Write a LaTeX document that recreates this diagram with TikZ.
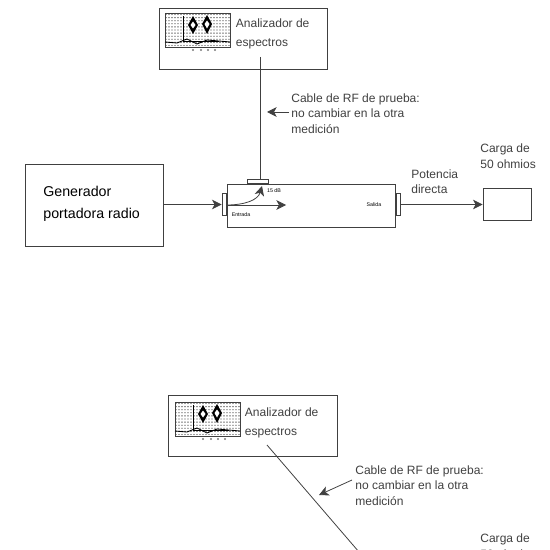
\documentclass[tikz,border=0pt]{standalone}
\usepackage{fontspec}
\setmainfont{Liberation Sans}
\usetikzlibrary{arrows.meta}
\definecolor{tinta}{gray}{.25}
\tikzset{
caja/.style={draw=tinta,line width=.42pt,inner sep=0pt},
linea/.style={draw=tinta,line width=.45pt},
flecha/.style={linea,-{Stealth[length=5.5pt,width=5.5pt,inset=1.5pt]}},
rotulo/.style={anchor=west,inner sep=0pt,text=tinta,font=\fontsize{6.85}{8.8}\selectfont,align=left},
mini/.style={inner sep=0pt,text=black,font=\fontsize{3}{3.4}\selectfont},
pics/espectro/.style={code={
\foreach \i in {0,...,21}{\foreach \j in {0,...,10}{\fill[tinta] (1+\i*3,1.5+\j*3.1) circle (.38pt);}}
\draw[tinta,line width=.4pt] (0,0) rectangle (65,34);
\draw[black,line width=.5pt] (18,3)--(18,28)--(54,28);
\draw[black,line width=.5pt] (0,29)--(12,30)--(22,26)--(32,31)--(42,27)--(65,29);
\fill[black] (28,3)--(33,12)--(28,21)--(23,12)--cycle;\fill[black] (42,2)--(47,11)--(42,21)--(37,11)--cycle;
\fill[white] (28,8.5)--(30.5,12)--(28,15.5)--(25.5,12)--cycle;\fill[white] (42,7.5)--(44.5,11)--(42,15.5)--(39.5,11)--cycle;
\foreach \i in {28,36,43,50}{\fill[tinta!70] (\i,37) circle (.7pt);}
}}}
\begin{document}
\begin{tikzpicture}[x=.02cm,y=-.02cm]
\useasboundingbox (0,0) rectangle (550,550);
\clip (0,0) rectangle (550,550);
% medicion de arriba
\node[caja,minimum width=3.36cm,minimum height=1.22cm] (analizador) at (243,38.5){};
\pic at (165,13) {espectro};
\node[rotulo] (analizadortxt) at (235.5,34) {Analizador de\\[1.9pt]espectros};
\node[caja,minimum width=2.76cm,minimum height=1.64cm] (generador) at (94,205){};
\node[rotulo,text=black,font=\fontsize{8.1}{12.4}\selectfont] (generadortxt) at (43,203.5) {Generador\\portadora radio};
\node[caja,minimum width=3.36cm,minimum height=.86cm] (acoplador) at (311,205.5){};
\node[caja,minimum width=.08cm,minimum height=.44cm] (entrada) at (224,204.5){};
\node[caja,minimum width=.08cm,minimum height=.44cm] (salida) at (398,204.5){};
\node[caja,fill=white,minimum width=.42cm,minimum height=.07cm] (toma) at (257.5,181.5){};
\node[caja,minimum width=.96cm,minimum height=.64cm] (carga) at (507,204.5){};
\node[mini] (entradatxt) at (241,214.5) {Entrada};
\node[mini] (salidatxt) at (374,204.5) {Salida};
\node[mini] (dbtxt) at (274,191) {15 dB};
\node[rotulo] (cabletxt) at (291,113.5) {Cable de RF de prueba:\\no cambiar en la otra\\medición};
\node[rotulo] (potenciatxt) at (411,181.5) {Potencia\\directa};
\node[rotulo] (cargatxt) at (480,156) {Carga de\\50 ohmios};
\coordinate (cablea) at (260,57);\coordinate (puntaa) at (267,112);\coordinate (colaa) at (289,112);
\coordinate (dentro) at (226.5,205);\coordinate (paso) at (286,205);\coordinate (acople) at (262,186);
\draw[linea] (cablea)--(toma.north-|cablea);
\draw[flecha] (colaa)--(puntaa);
\draw[flecha] (generador.east|-entrada.west)--(entrada.west);
\draw[flecha] (dentro)--(paso);
\draw[flecha] (dentro) .. controls (245,205) and (258,200) .. (acople);
\draw[flecha] (salida.east)--(carga.west);
% medicion de abajo
\node[caja,minimum width=3.38cm,minimum height=1.22cm] (analizadorb) at (252.5,425.5){};
\pic at (175,402) {espectro};
\node[rotulo] (analizadorbtxt) at (244.5,422.5) {Analizador de\\[1.9pt]espectros};
\node[rotulo] (cablebtxt) at (355,485.5) {Cable de RF de prueba:\\no cambiar en la otra\\medición};
\node[rotulo] (cargabtxt) at (480,546) {Carga de\\50 ohmios};
\coordinate (cableb) at (267,445);\coordinate (finb) at (359,552);\coordinate (puntab) at (319,495);\coordinate (colab) at (352,480);
\draw[linea] (cableb)--(finb);
\draw[flecha] (colab)--(puntab);
\end{tikzpicture}
\end{document}
